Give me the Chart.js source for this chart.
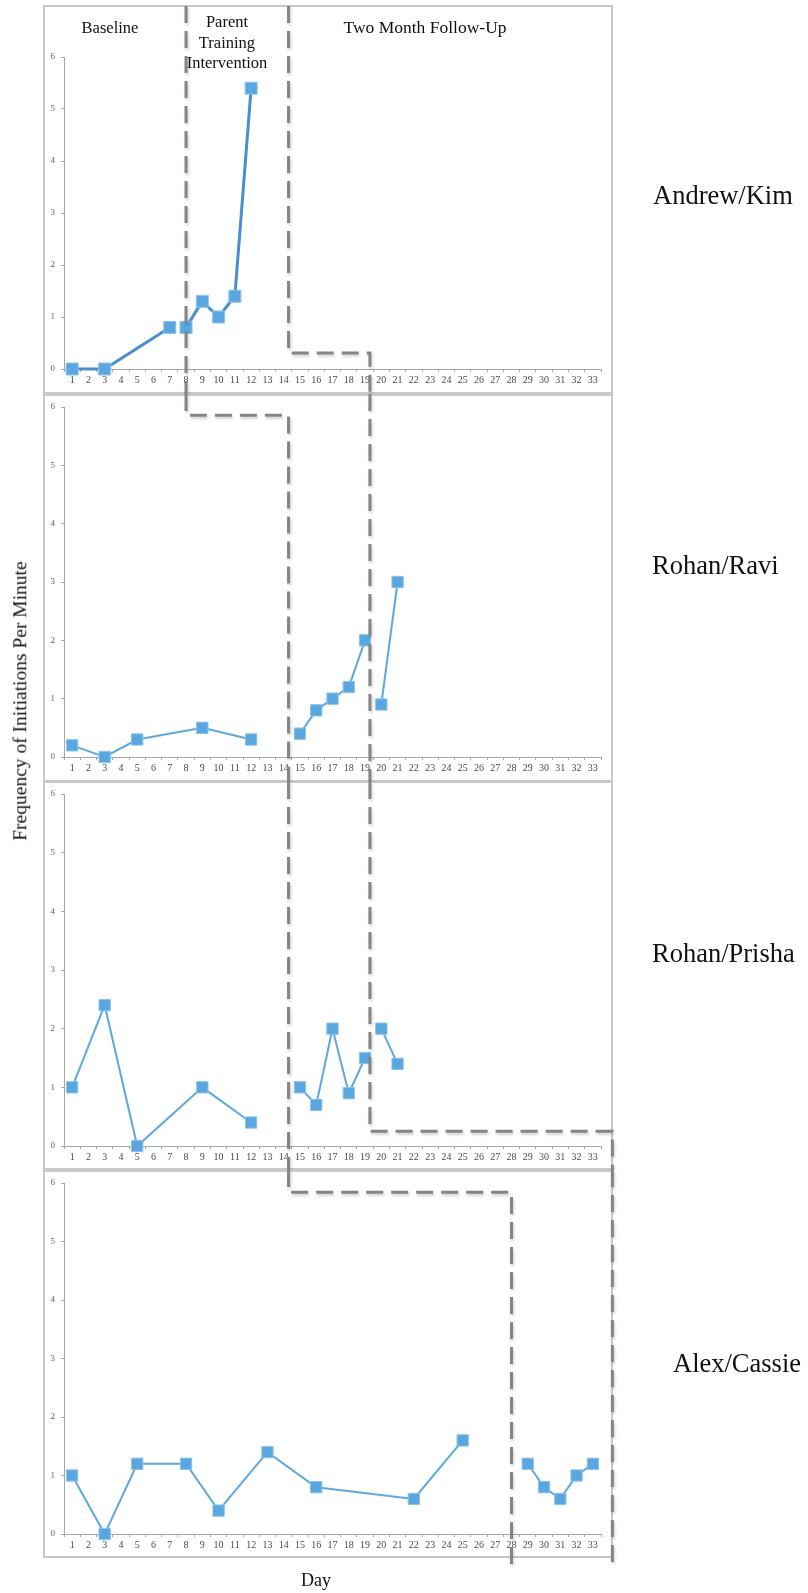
<!DOCTYPE html>
<html>
<head>
<meta charset="utf-8">
<title>Frequency of Initiations Per Minute</title>
<script src="https://cdn.jsdelivr.net/npm/chart.js@4.4.1/dist/chart.umd.min.js"></script>
<style>
  body { margin: 0; background: #fff; }
  #page { position: relative; width: 808px; height: 1593px; overflow: hidden; font-family: "Liberation Serif", "Times New Roman", serif; color: #111; }
  canvas { position: absolute; left: 0; }
  .txt { position: absolute; white-space: nowrap; line-height: 1; }
  .phase { font-size: 16.5px; transform: translate(-50%, -50%); text-align: center; }
  .name { font-size: 26.5px; transform: translateY(-50%); }
  #ytitle { font-size: 19.5px; left: 20px; top: 701px; transform: translate(-50%, -50%) rotate(-90deg); }
  #xtitle { font-size: 18px; left: 316px; top: 1580px; transform: translate(-50%, -50%); }
</style>
</head>
<body>
<div id="page">
  <canvas id="andrew" width="808" height="394" style="top:0px"></canvas>
  <canvas id="ravi" width="808" height="388" style="top:394px"></canvas>
  <canvas id="prisha" width="808" height="388" style="top:782px"></canvas>
  <canvas id="cassie" width="808" height="423" style="top:1170px"></canvas>

  <div class="txt phase" style="left:110px; top:28px">Baseline</div>
  <div class="txt phase" style="left:227px; top:43px; line-height:20.5px">Parent<br>Training<br>Intervention</div>
  <div class="txt phase" style="left:425px; top:28px; font-size:17.5px">Two Month Follow-Up</div>

  <div class="txt name" style="left:653px; top:195px">Andrew/Kim</div>
  <div class="txt name" style="left:652px; top:565px">Rohan/Ravi</div>
  <div class="txt name" style="left:652px; top:953px">Rohan/Prisha</div>
  <div class="txt name" style="left:673px; top:1363px">Alex/Cassie</div>

  <div class="txt" id="ytitle">Frequency of Initiations Per Minute</div>
  <div class="txt" id="xtitle">Day</div>
</div>
<script>
const days = ['1', '2', '3', '4', '5', '6', '7', '8', '9', '10', '11', '12', '13', '14', '15', '16', '17',
    '18', '19', '20', '21', '22', '23', '24', '25', '26', '27', '28', '29', '30', '31', '32', '33'],
    yTicks = [0, 1, 2, 3, 4, 5, 6];

// phase: 0 = baseline, 1 = parent training, 2 = follow-up
const andrewDays = [1, 3, 7, 8, 9, 10, 11, 12],
    andrewValues = [0, 0, 0.8, 0.8, 1.3, 1.0, 1.4, 5.4],
    andrewPhase = [0, 0, 0, 1, 1, 1, 1, 1];

const raviDays = [1, 3, 5, 9, 12, 15, 16, 17, 18, 19, 20, 21],
    raviValues = [0.2, 0, 0.3, 0.5, 0.3, 0.4, 0.8, 1.0, 1.2, 2.0, 0.9, 3.0],
    raviPhase = [0, 0, 0, 0, 0, 1, 1, 1, 1, 1, 2, 2];

const prishaDays = [1, 3, 5, 9, 12, 15, 16, 17, 18, 19, 20, 21],
    prishaValues = [1.0, 2.4, 0, 1.0, 0.4, 1.0, 0.7, 2.0, 0.9, 1.5, 2.0, 1.4],
    prishaPhase = [0, 0, 0, 0, 0, 1, 1, 1, 1, 1, 2, 2];

const cassieDays = [1, 3, 5, 8, 10, 13, 16, 22, 25, 29, 30, 31, 32, 33],
    cassieValues = [1.0, 0, 1.2, 1.2, 0.4, 1.4, 0.8, 0.6, 1.6, 1.2, 0.8, 0.6, 1.0, 1.2],
    cassiePhase = [0, 0, 0, 0, 0, 0, 0, 0, 0, 1, 1, 1, 1, 1];

// phase change lines: [day, value], 'top'/'bottom' = run off the panel
const andrewSteps = [
    [[8, 'top'], [8, 'bottom']],
    [[14.3, 'top'], [14.3, 0.31], [19.3, 0.31], [19.3, 'bottom']]
];
const raviSteps = [
    [[8, 'top'], [8, 5.86], [14.3, 5.86], [14.3, 'bottom']],
    [[19.3, 'top'], [19.3, 'bottom']]
];
const prishaSteps = [
    [[14.3, 'top'], [14.3, 'bottom']],
    [[19.3, 'top'], [19.3, 0.25], [34.2, 0.25], [34.2, 'bottom']]
];
const cassieSteps = [
    [[14.3, 'top'], [14.3, 5.84], [28, 5.84], [28, 'bottom']],
    [[34.2, 'top'], [34.2, 'bottom']]
];

const phasePlugin = {
    id: 'phasePlugin',
    beforeDraw(chart, args, opts) {
        const {ctx, chartArea} = chart;
        ctx.save();
        ctx.strokeStyle = '#c8c8c8';
        ctx.lineWidth = 2;
        ctx.strokeRect(chartArea.left - 20, opts.frame[0], chartArea.right - chartArea.left + 31, opts.frame[1] - opts.frame[0]);
        ctx.restore();
    },
    afterDraw(chart, args, opts) {
        const {ctx, scales: {x, y}} = chart;
        ctx.save();
        ctx.strokeStyle = '#858585';
        ctx.lineWidth = 3;
        ctx.setLineDash([17, 8]);
        ctx.shadowColor = 'rgba(0, 0, 0, 0.2)';
        ctx.shadowBlur = 3;
        ctx.shadowOffsetX = 1;
        ctx.shadowOffsetY = 2;
        opts.steps.forEach(path => {
            ctx.beginPath();
            path.forEach(([d, v], i) => {
                const px = x.getPixelForValue(d - 1),
                    py = v === 'top' ? opts.ends[0] : v === 'bottom' ? opts.ends[1] : y.getPixelForValue(v);
                if (i) ctx.lineTo(px, py); else ctx.moveTo(px, py);
            });
            ctx.stroke();
        });
        ctx.restore();
    }
};

function makePanel(id, dayList, values, phases, steps, look) {
    const datasets = [0, 1, 2].map(p => ({
        data: dayList.map((d, i) => ({x: String(d), y: values[i], p: phases[i]})).filter(pt => pt.p === p),
        borderColor: look.lineColor,
        borderWidth: look.lineWidth,
        pointStyle: 'rect',
        pointRadius: look.radius,
        pointBackgroundColor: '#5aa7e0',
        pointBorderColor: '#8cc3ec',
        pointBorderWidth: 1,
        tension: 0,
        clip: false
    })).filter(ds => ds.data.length);

    return new Chart(document.getElementById(id).getContext('2d'), {
        type: 'line',
        data: {labels: days, datasets: datasets},
        options: {
            responsive: false,
            devicePixelRatio: 1,
            animation: false,
            layout: {padding: {left: 44, right: 207, top: look.top, bottom: look.bottom}},
            plugins: {
                legend: {display: false},
                tooltip: {enabled: false},
                phasePlugin: {steps: steps, frame: look.frame, ends: look.ends}
            },
            scales: {
                x: {
                    type: 'category',
                    offset: true,
                    grid: {drawOnChartArea: false, offset: true, tickLength: 3, color: '#a8a8a8'},
                    border: {color: '#a8a8a8'},
                    ticks: {autoSkip: false, maxRotation: 0, padding: 2, color: '#4a4a4a',
                        font: {family: 'Liberation Serif', size: 10}},
                    afterFit: s => { s.height = 24; }
                },
                y: {
                    min: 0,
                    max: 6,
                    afterBuildTicks: s => { s.ticks = yTicks.map(v => ({value: v})); },
                    grid: {drawOnChartArea: false, tickLength: 3, color: '#a8a8a8'},
                    border: {color: '#a8a8a8'},
                    ticks: {padding: 6, color: '#666', font: {family: 'Liberation Serif', size: 9}},
                    afterFit: s => { s.width = 20; }
                }
            }
        },
        plugins: [phasePlugin]
    });
}

makePanel('andrew', andrewDays, andrewValues, andrewPhase, andrewSteps,
    {top: 57, bottom: 1, frame: [6, 393], ends: [6, 394], lineColor: '#4a8fcd', lineWidth: 3, radius: 8.5});
makePanel('ravi', raviDays, raviValues, raviPhase, raviSteps,
    {top: 13, bottom: 1, frame: [1, 387], ends: [0, 388], lineColor: '#5fa8df', lineWidth: 2, radius: 8});
makePanel('prisha', prishaDays, prishaValues, prishaPhase, prishaSteps,
    {top: 12, bottom: 0, frame: [0, 387], ends: [0, 388], lineColor: '#5fa8df', lineWidth: 2, radius: 8});
makePanel('cassie', cassieDays, cassieValues, cassiePhase, cassieSteps,
    {top: 13, bottom: 35, frame: [1, 387], ends: [0, 395], lineColor: '#5fa8df', lineWidth: 2, radius: 8});
</script>
</body>
</html>
